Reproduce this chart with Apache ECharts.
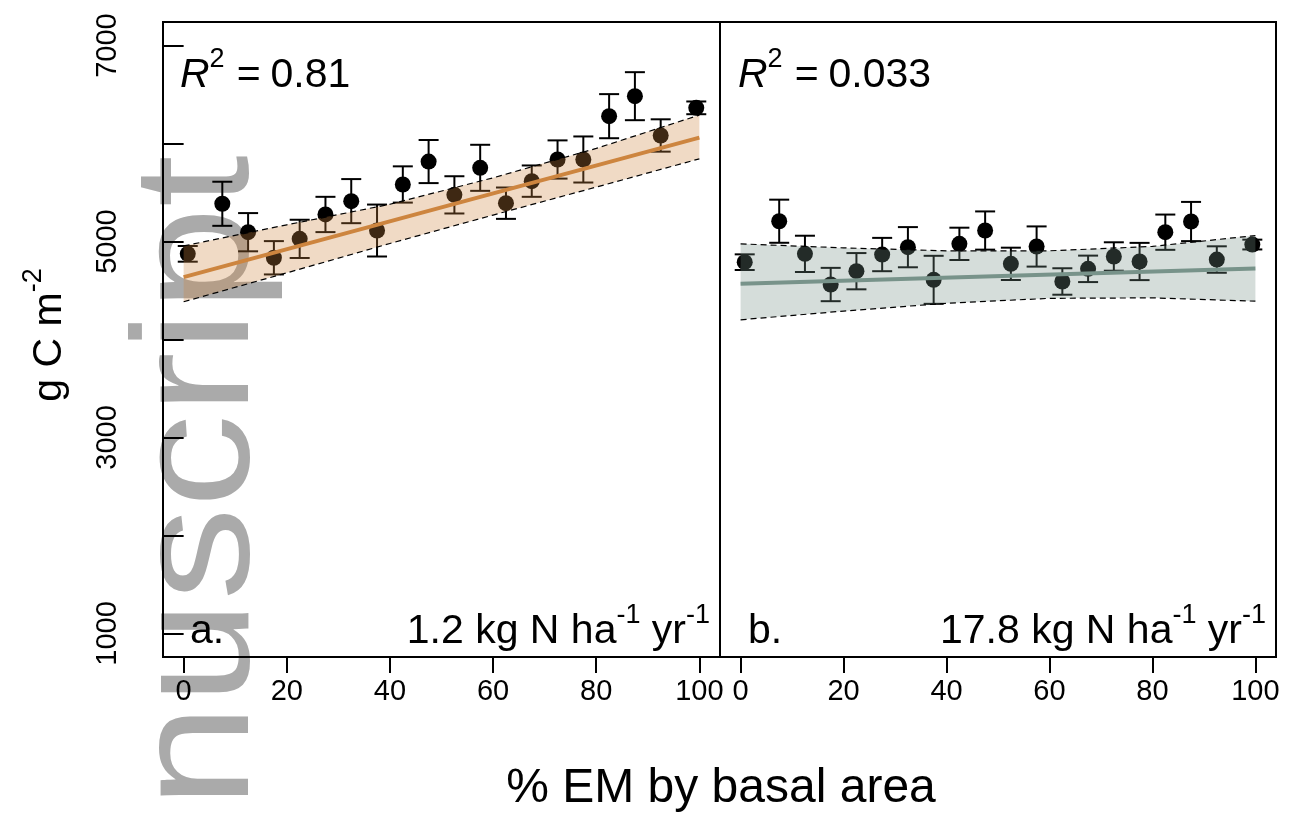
<!DOCTYPE html>
<html>
<head>
<meta charset="utf-8">
<script src="https://cdn.jsdelivr.net/npm/echarts@6/dist/echarts.min.js"></script>
<style>
html,body{margin:0;padding:0;background:#fff;}
#chart{width:1289px;height:814px;}
</style>
</head>
<body>
<div id="chart"></div>
<script>
// ---- data ----
const xBins = [0.8, 7.5, 12.5, 17.5, 22.5, 27.5, 32.5, 37.5, 42.5, 47.5, 52.5, 57.5, 62.5, 67.5, 72.5, 77.5, 82.5, 87.5, 92.5, 99.4];
const valsA = [4874, 5385, 5095, 4834, 5027, 5276, 5412, 5112, 5582, 5816, 5476, 5752, 5391, 5616, 5837, 5837, 6279, 6483, 6082, 6364];
const errA  = [80, 225, 195, 170, 195, 180, 225, 265, 185, 220, 190, 235, 160, 160, 195, 235, 225, 245, 165, 65];
const valsB = [4789, 5207, 4874, 4561, 4697, 4867, 4942, 4609, 4976, 5112, 4772, 4949, 4592, 4721, 4847, 4796, 5095, 5204, 4816, 4969];
const errB  = [80, 220, 185, 170, 185, 170, 205, 245, 165, 195, 165, 205, 135, 135, 145, 190, 180, 200, 135, 50];

const fitX = [0, 100];
const fitA = [4636, 6060];
const fitB = [4568, 4725];

const bandX = [0, 20, 40, 60, 80, 100];
const bandUpperA = [4955, 5170, 5380, 5650, 5950, 6290];
const bandLowerA = [4385, 4680, 4980, 5270, 5555, 5844];
const bandUpperB = [4976, 4935, 4905, 4905, 4950, 5061];
const bandLowerB = [4201, 4290, 4370, 4420, 4425, 4391];

const xTicks = [0, 20, 40, 60, 80, 100];
const yTicks = [1000, 2000, 3000, 4000, 5000, 6000, 7000];
const yLabels = [1000, 3000, 5000, 7000];

const r2A = '0.81', r2B = '0.033';
const depA = '1.2', depB = '17.8';
const panelA = 'a.', panelB = 'b.';
const xTitle = '% EM by basal area';
const watermark = 'nuscript';

// ---- styles ----
const FONT = '"Liberation Sans", Arial, Helvetica, sans-serif';
const colA = '#CD853F', colB = '#78938A';
const fillA = 'rgba(205,133,63,0.30)', fillB = 'rgba(117,143,133,0.30)';

const chart = echarts.init(document.getElementById('chart'));

function errSeries(idx, vals, errs) {
  return {
    type: 'custom', xAxisIndex: idx, yAxisIndex: idx, z: 2,
    data: xBins.map((x, i) => [x, vals[i], errs[i]]),
    encode: {x: 0, y: 1},
    renderItem: function (params, api) {
      const x = api.value(0), v = api.value(1), e = api.value(2);
      const t = api.coord([x, v + e]), b = api.coord([x, v - e]);
      const hw = 10, st = {stroke: '#000', lineWidth: 2};
      return {type: 'group', children: [
        {type: 'line', shape: {x1: t[0], y1: t[1], x2: b[0], y2: b[1]}, style: st},
        {type: 'line', shape: {x1: t[0] - hw, y1: t[1], x2: t[0] + hw, y2: t[1]}, style: st},
        {type: 'line', shape: {x1: b[0] - hw, y1: b[1], x2: b[0] + hw, y2: b[1]}, style: st}
      ]};
    }
  };
}
function pointSeries(idx, vals) {
  return {
    type: 'scatter', xAxisIndex: idx, yAxisIndex: idx, z: 3,
    symbol: 'circle', symbolSize: 16,
    itemStyle: {color: '#000', opacity: 1},
    data: xBins.map((x, i) => [x, vals[i]])
  };
}
function bandSeries(idx, up, lo, fill) {
  return {
    type: 'custom', xAxisIndex: idx, yAxisIndex: idx, z: 4,
    data: [[bandX[0], up[0]]],
    encode: {x: 0, y: 1},
    renderItem: function (params, api) {
      const u = bandX.map((x, i) => api.coord([x, up[i]]));
      const l = bandX.map((x, i) => api.coord([x, lo[i]]));
      const dash = {stroke: '#000', lineWidth: 1.2, lineDash: [6, 4], fill: null};
      return {type: 'group', children: [
        {type: 'polygon', shape: {points: u.concat(l.slice().reverse())}, style: {fill: fill}},
        {type: 'polyline', shape: {points: u}, style: dash},
        {type: 'polyline', shape: {points: l}, style: dash}
      ]};
    }
  };
}
function fitSeries(idx, vals, col) {
  return {
    type: 'line', xAxisIndex: idx, yAxisIndex: idx, z: 5,
    symbol: 'none', lineStyle: {color: col, width: 4},
    data: fitX.map((x, i) => [x, vals[i]])
  };
}

function xAxisDef(idx) {
  return {
    gridIndex: idx, type: 'value', min: -4, max: 104,
    axisLine: {show: false}, splitLine: {show: false},
    axisTick: {show: true, length: 16, inside: false, customValues: xTicks, lineStyle: {color: '#000', width: 2}},
    axisLabel: {customValues: xTicks, fontSize: 29, color: '#000', fontFamily: FONT, margin: 20,
      formatter: v => String(v)}
  };
}
function yAxisDef(idx) {
  return {
    gridIndex: idx, type: 'value', min: 760, max: 7240, show: idx === 0,
    axisLine: {show: false}, splitLine: {show: false},
    axisTick: {show: true, length: 20, customValues: yTicks, lineStyle: {color: '#000', width: 2}},
    axisLabel: {customValues: yLabels, rotate: 90, fontSize: 29, color: '#000', fontFamily: FONT, margin: 41,
      formatter: v => String(v)}
  };
}

const big = {fontSize: 41, fontFamily: FONT, color: '#000', lineHeight: 50, verticalAlign: 'bottom'};
const sup = {fontSize: 27, fontFamily: FONT, color: '#000', lineHeight: 27, verticalAlign: 'top'};
const rich = {
  n: big,
  e: Object.assign({}, big, {padding: [0, 10, 0, 12]}),
  i: Object.assign({}, big, {fontStyle: 'italic'}),
  s: sup
};

function r2Text(x, v) {
  return {type: 'text', x: x, y: 96, z: 50,
    style: {text: '{i|R}{s|2}{e|=}{n|' + v + '}', rich: rich, align: 'left', verticalAlign: 'bottom'}};
}
function depText(xr, v) {
  return {type: 'text', x: xr, y: 652, z: 50,
    style: {text: '{n|' + v + ' kg N ha}{s|-1}{n| yr}{s|-1}', rich: rich, align: 'right', verticalAlign: 'bottom'}};
}
function panelText(x, v) {
  return {type: 'text', x: x, y: 652, z: 50,
    style: {text: '{n|' + v + '}', rich: rich, align: 'left', verticalAlign: 'bottom'}};
}

const option = {
  animation: false,
  backgroundColor: '#fff',
  grid: [
    {left: 163, top: 22, width: 557, height: 635, show: true, borderColor: '#000', borderWidth: 2, backgroundColor: 'transparent'},
    {left: 720, top: 22, width: 556, height: 635, show: true, borderColor: '#000', borderWidth: 2, backgroundColor: 'transparent'}
  ],
  xAxis: [xAxisDef(0), xAxisDef(1)],
  yAxis: [yAxisDef(0), yAxisDef(1)],
  series: [
    errSeries(0, valsA, errA), pointSeries(0, valsA), bandSeries(0, bandUpperA, bandLowerA, fillA), fitSeries(0, fitA, colA),
    errSeries(1, valsB, errB), pointSeries(1, valsB), bandSeries(1, bandUpperB, bandLowerB, fillB), fitSeries(1, fitB, colB)
  ],
  graphic: [
    {type: 'text', x: 202, y: 808, rotation: Math.PI / 2, scaleX: 1.13, scaleY: 1, z: -10,
      style: {text: watermark, fontSize: 165, fontFamily: FONT, fill: '#aaaaaa', align: 'left', verticalAlign: 'middle'}},
    r2Text(180, r2A), r2Text(738, r2B),
    depText(710, depA), depText(1266, depB),
    panelText(190, panelA), panelText(748, panelB),
    {type: 'text', x: 721, y: 789, z: 50,
      style: {text: xTitle, fontSize: 48, fontFamily: FONT, fill: '#000', align: 'center', verticalAlign: 'middle'}},
    {type: 'text', x: 45, y: 335, rotation: Math.PI / 2, z: 50,
      style: {text: '{n|g C m}{s|-2}', rich: rich, align: 'center', verticalAlign: 'middle'}}
  ]
};
chart.setOption(option);
</script>
</body>
</html>
